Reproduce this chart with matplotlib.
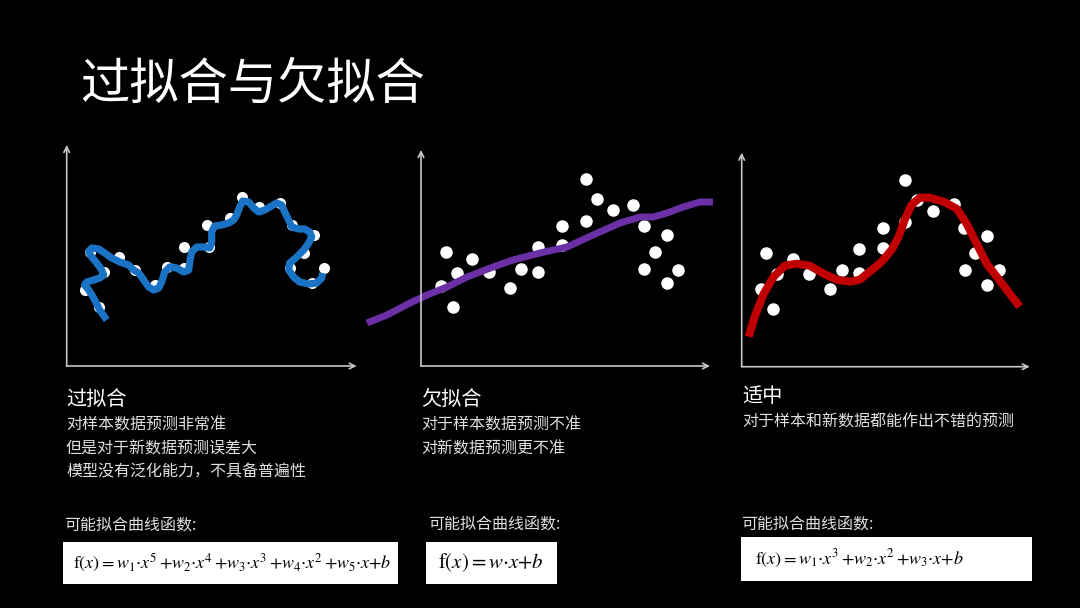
import matplotlib.pyplot as plt
from matplotlib.patches import Rectangle

plt.rcParams['font.family'] = ['Noto Sans CJK SC', 'DejaVu Sans']
plt.rcParams['mathtext.fontset'] = 'stix'

W, H = 1080, 608

# 样本点（三张图基本相同）
over_x = [32, 18, 37, 23, 52, 68, 88, 100, 117, 117, 140, 142, 163, 175, 192, 213, 225, 247, 237, 223, 245, 257]
over_y = [59, 76, 94, 114, 109, 96, 81, 99, 98, 119, 141, 119, 148, 169, 159, 163, 141, 131, 113, 98, 83, 98]

# 过拟合曲线
over_cx = [40, 33, 27, 22, 18, 20, 27, 33, 37, 35, 30, 25, 22, 25, 32, 38, 45, 53, 62, 67, 72, 77, 82, 87,
           92, 95, 98, 103, 110, 117, 122, 123, 125, 130, 137, 143, 145, 145, 148, 155, 162, 167, 170, 173,
           176, 182, 187, 192, 198, 203, 210, 215, 218, 222, 225, 232, 238, 243, 245, 242, 237, 230, 223,
           222, 227, 233, 242, 250, 255, 256]
over_cy = [46, 56, 68, 76, 81, 84, 86, 88, 91, 96, 103, 109, 114, 118, 117, 113, 108, 104, 101, 96, 93, 86,
           79, 76, 78, 84, 94, 99, 98, 94, 96, 104, 114, 119, 119, 118, 124, 134, 140, 141, 143, 146, 151,
           159, 165, 164, 158, 154, 156, 159, 163, 161, 154, 146, 139, 137, 137, 134, 129, 123, 116, 109,
           103, 96, 89, 84, 82, 83, 88, 93]

under_x = [25, 36, 20, 32, 51, 68, 89, 100, 117, 117, 141, 141, 165, 165, 176, 192, 212, 223, 246, 234, 223, 257, 246]
under_y = [114, 93, 80, 59, 107, 94, 78, 97, 94, 119, 140, 121, 187, 145, 167, 156, 161, 140, 131, 114, 97, 96, 83]

# 欠拟合直线
under_cx = [-54, -34, -11, 6, 26, 46, 72, 92, 119, 146, 172, 199, 219, 232, 246, 262, 279, 292]
under_cy = [43, 51, 63, 71, 79, 89, 99, 106, 113, 119, 131, 143, 149, 149, 153, 159, 164, 164]

good_x = [24, 35, 19, 31, 51, 67, 88, 100, 117, 117, 141, 141, 163, 163, 175, 191, 212, 222, 245, 233, 223, 257, 245]
good_y = [114, 93, 78, 58, 108, 93, 78, 97, 94, 118, 139, 119, 187, 145, 167, 156, 163, 139, 131, 114, 97, 97, 82]

# 适中曲线
good_cx = [7, 13, 22, 32, 43, 55, 68, 82, 95, 108, 118, 128, 140, 150, 157, 163, 170, 178, 188, 202, 215,
           225, 235, 245, 255, 265, 278]
good_cy = [30, 50, 73, 90, 101, 103, 101, 93, 87, 85, 87, 95, 105, 117, 130, 147, 162, 169, 169, 165, 158,
           143, 123, 103, 90, 77, 60]

fig = plt.figure(figsize=(W / 100, H / 100), dpi=100, facecolor='black')


def fx(x):
    return x / W


def fy(y):
    return 1 - y / H


def panel(ox, oy, xmax, ymax, px, py, cx, cy, color, lw, dot):
    ax = fig.add_axes([fx(ox), fy(oy), xmax / W, ymax / H])
    ax.set_xlim(0, xmax)
    ax.set_ylim(0, ymax)
    ax.axis('off')
    ax.scatter(px, py, s=dot, color='white', zorder=2, clip_on=False)
    ax.plot(cx, cy, color=color, lw=lw, solid_capstyle='butt', solid_joinstyle='round',
            zorder=3, clip_on=False)
    arrow = dict(arrowstyle='->', color='#c8c8c8', lw=1.2, shrinkA=0, shrinkB=0)
    ax.annotate('', xy=(xmax, 0), xytext=(0, 0), arrowprops=arrow, annotation_clip=False)
    ax.annotate('', xy=(0, ymax), xytext=(0, 0), arrowprops=arrow, annotation_clip=False)
    return ax


panel(66.7, 366, 290, 221, over_x, over_y, over_cx, over_cy, '#1a73c4', 5.2, 48)
panel(421, 366, 289, 216, under_x, under_y, under_cx, under_cy, '#6b2fa6', 5, 64)
panel(741.7, 366.7, 288, 214, good_x, good_y, good_cx, good_cy, '#c00000', 5.8, 64)

# 标题
fig.text(fx(80), fy(85), '过拟合与欠拟合', color='white', fontsize=35.5, va='center', ha='left')

# 各图说明
fig.text(fx(66), fy(400), '过拟合', color='white', fontsize=14.5, va='center')
fig.text(fx(421), fy(400), '欠拟合', color='white', fontsize=14.5, va='center')
fig.text(fx(742), fy(397), '适中', color='white', fontsize=14.5, va='center')

desc = '#e0e0e0'
for y, s in [(425, '对样本数据预测非常准'), (449, '但是对于新数据预测误差大'), (472, '模型没有泛化能力，不具备普遍性')]:
    fig.text(fx(66), fy(y), s, color=desc, fontsize=11.5, va='center')
for y, s in [(425, '对于样本数据预测不准'), (449, '对新数据预测更不准')]:
    fig.text(fx(421), fy(y), s, color=desc, fontsize=11.5, va='center')
fig.text(fx(742), fy(422), '对于样本和新数据都能作出不错的预测', color=desc, fontsize=11.5, va='center')

# 公式
for x, y in [(64, 525), (428, 524), (741, 524)]:
    fig.text(fx(x), fy(y), '可能拟合曲线函数:', color=desc, fontsize=11.5, va='center')

boxes = [(63.3, 541.7, 398, 584), (426, 541.7, 557.3, 584), (740.7, 537.3, 1031.7, 580.7)]
formulas = [r'$\mathrm{f}(x){=}w_1{\cdot}x^5\,{+}w_2{\cdot}x^4\,{+}w_3{\cdot}x^3\,{+}w_4{\cdot}x^2\,{+}w_5{\cdot}x{+}b$',
            r'$\mathrm{f}(x){=}w{\cdot}x{+}b$',
            r'$\mathrm{f}(x){=}w_1{\cdot}x^3\,{+}w_2{\cdot}x^2\,{+}w_3{\cdot}x{+}b$']
text_x = [73, 438, 755]
sizes = [13, 15, 13]
for (x0, y0, x1, y1), f, tx, fs in zip(boxes, formulas, text_x, sizes):
    fig.add_artist(Rectangle((fx(x0), fy(y1)), (x1 - x0) / W, (y1 - y0) / H,
                             transform=fig.transFigure, facecolor='white', edgecolor='none'))
    fig.text(fx(tx), fy((y0 + y1) / 2), f, color='black', fontsize=fs, va='center', ha='left')

fig.savefig('out.png', dpi=100, facecolor='black')
